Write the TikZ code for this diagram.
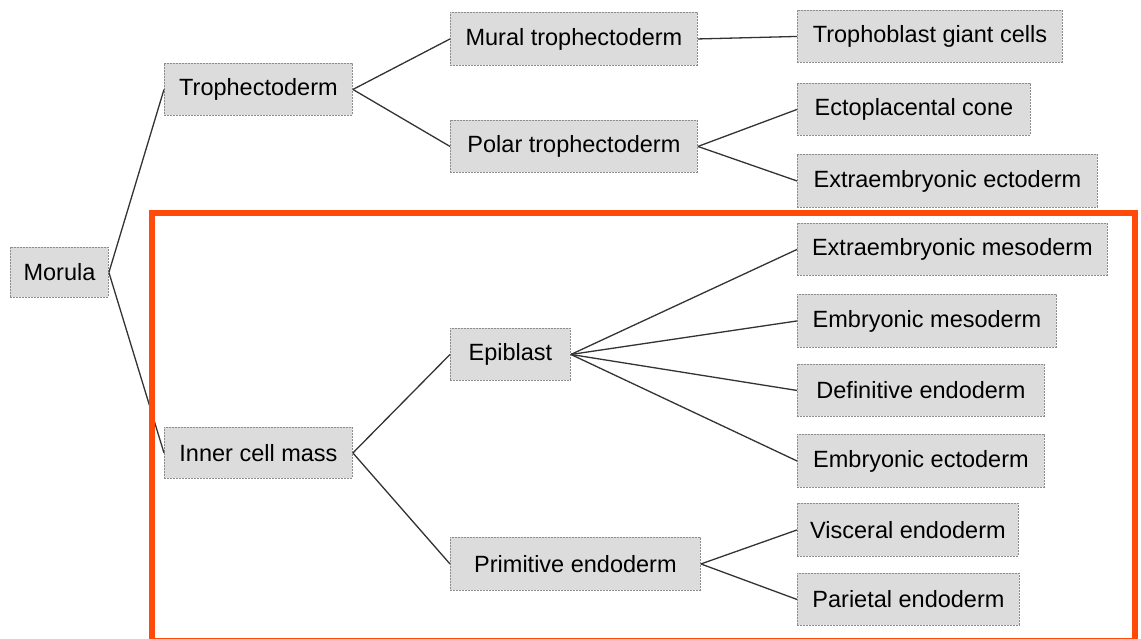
\documentclass[tikz,border=0pt]{standalone}
\usepackage{fontspec}
\setmainfont{Liberation Sans}
\definecolor{boxfill}{HTML}{DCDCDC}
\definecolor{boxline}{HTML}{8C8C8C}
\definecolor{linkcol}{HTML}{333333}
\definecolor{frame}{HTML}{FF4A0A}
\tikzset{
  cell/.style={draw=boxline, fill=boxfill, line width=0.9pt, dash pattern=on 2pt off 1pt,
    anchor=north west, inner sep=0pt, align=center,
    font=\fontsize{23.5}{28}\selectfont, text=black},
  link/.style={draw=linkcol, line width=1.3pt},
}
\newcommand{\cellnode}[6]{\node[cell, minimum width=#4pt, minimum height=#5pt] (#1) at (#2,#3) {#6};}
\begin{document}
\begin{tikzpicture}[x=1pt,y=-1pt]
\useasboundingbox (0,0) rectangle (1141,638);
\fill[white] (0,0) rectangle (1141,638);
\cellnode{mor}{10}{247}{98}{50}{Morula}
\cellnode{tro}{164}{63}{188}{52}{Trophectoderm}
\cellnode{icm}{164}{427}{188}{51}{Inner cell mass}
\cellnode{mur}{450}{12}{247}{53}{Mural trophectoderm}
\cellnode{pol}{450}{120}{247}{52}{Polar trophectoderm}
\cellnode{epi}{450}{328}{120}{52}{Epiblast}
\cellnode{pri}{450}{537}{250}{53}{Primitive endoderm}
\cellnode{tgc}{797}{10}{265}{52}{Trophoblast giant cells}
\cellnode{ect}{797}{83}{233}{52}{Ectoplacental cone}
\cellnode{xec}{797}{154}{300}{53}{Extraembryonic ectoderm}
\cellnode{xme}{797}{223}{310}{52}{Extraembryonic mesoderm}
\cellnode{eme}{797}{294}{259}{53}{Embryonic mesoderm}
\cellnode{den}{797}{364}{247}{52}{Definitive endoderm}
\cellnode{eec}{797}{434}{247}{53}{Embryonic ectoderm}
\cellnode{vis}{797}{503}{221}{53}{Visceral endoderm}
\cellnode{par}{797}{573}{222}{52}{Parietal endoderm}
\draw[link] (mor.east) -- (tro.west);
\draw[link] (mor.east) -- (icm.west);
\draw[link] (tro.east) -- (mur.west);
\draw[link] (tro.east) -- (pol.west);
\draw[link] (icm.east) -- (epi.west);
\draw[link] (icm.east) -- (pri.west);
\draw[link] (mur.east) -- (tgc.west);
\draw[link] (pol.east) -- (ect.west);
\draw[link] (pol.east) -- (xec.west);
\draw[link] (epi.east) -- (xme.west);
\draw[link] (epi.east) -- (eme.west);
\draw[link] (epi.east) -- (den.west);
\draw[link] (epi.east) -- (eec.west);
\draw[link] (pri.east) -- (vis.west);
\draw[link] (pri.east) -- (par.west);
\draw[frame, line width=6.5pt] (152,213) rectangle (1135,641.5);
\end{tikzpicture}
\end{document}
